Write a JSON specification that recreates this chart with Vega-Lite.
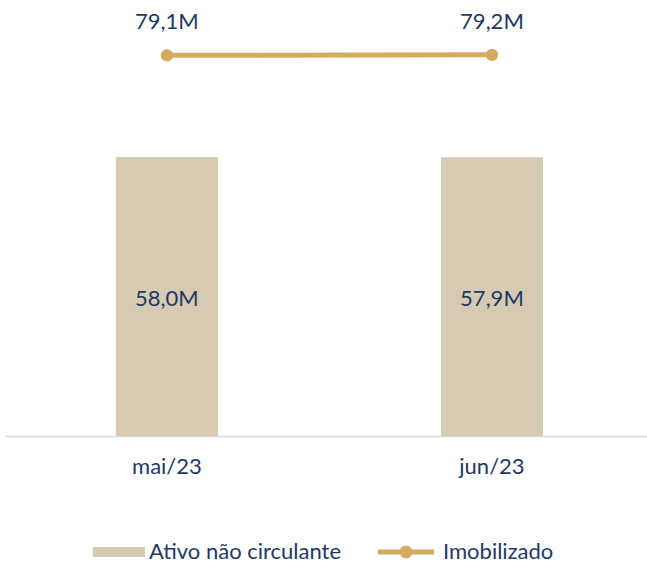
{
  "$schema": "https://vega.github.io/schema/vega-lite/v6.json",
  "width": 642,
  "height": 436,
  "padding": {"left": 5, "right": 0, "top": 0, "bottom": 0},
  "config": {
    "view": {"stroke": null},
    "font": "Lato",
    "text": {"font": "Lato"}
  },
  "data": {
    "values": [
      {"mes": "mai/23", "ativo": 58.0, "imob": 79.1, "ativoLabel": "58,0M", "imobLabel": "79,1M"},
      {"mes": "jun/23", "ativo": 57.9, "imob": 79.2, "ativoLabel": "57,9M", "imobLabel": "79,2M"}
    ]
  },
  "encoding": {
    "x": {
      "field": "mes",
      "type": "nominal",
      "sort": null,
      "scale": {"paddingInner": 0.686, "paddingOuter": 0.3306, "align": 0.516},
      "axis": {
        "title": null,
        "labelAngle": 0,
        "ticks": false,
        "grid": false,
        "domainColor": "#D9D9D9",
        "domainWidth": 1.5,
        "labelFont": "Lato",
        "labelFontSize": 22,
        "labelColor": "#1F3864",
        "labelPadding": 20
      }
    }
  },
  "layer": [
    {
      "mark": {"type": "bar"},
      "encoding": {
        "y": {"field": "ativo", "type": "quantitative", "scale": {"domain": [0, 90.6], "nice": false, "zero": true}, "axis": null},
        "color": {
          "datum": "Ativo não circulante",
          "type": "nominal",
          "scale": {"domain": ["Ativo não circulante", "Imobilizado"], "range": ["#D6CAB2", "#D5AB62"]},
          "legend": {
            "title": null,
            "orient": "none",
            "legendX": 79,
            "legendY": 524,
            "direction": "horizontal",
            "symbolSize": 3136,
            "columnPadding": 36,
            "labelOffset": 9,
            "labelLimit": 0,
            "labelFont": "Lato",
            "labelFontSize": 22,
            "labelColor": "#1F3864",
            "encode": {
              "symbols": {
                "update": {
                  "shape": {"signal": "datum.value === 'Imobilizado' ? 'M-1,-0.09H1V0.09H-1Z M0.23,0A0.23,0.23 0 1,1 -0.23,0A0.23,0.23 0 1,1 0.23,0Z' : 'M-0.68,-0.18H1.18V0.18H-0.68Z'"},
                  "fill": {"signal": "datum.value === 'Imobilizado' ? '#D5AB62' : '#D6CAB2'"},
                  "stroke": {"value": "transparent"},
                  "strokeWidth": {"value": 0},
                  "opacity": {"value": 1},
                  "fillOpacity": {"value": 1}
                }
              }
            }
          }
        }
      }
    },
    {
      "mark": {"type": "text", "dy": 142, "fontSize": 22, "color": "#1F3864", "baseline": "middle"},
      "encoding": {
        "y": {"field": "ativo", "type": "quantitative", "axis": null},
        "text": {"field": "ativoLabel"}
      }
    },
    {
      "mark": {"type": "line", "strokeWidth": 5},
      "encoding": {
        "y": {"field": "imob", "type": "quantitative", "axis": null},
        "color": {"datum": "Imobilizado", "type": "nominal"}
      }
    },
    {
      "mark": {"type": "point", "filled": true, "size": 154, "opacity": 1, "color": "#D5AB62", "shape": "circle"},
      "encoding": {
        "y": {"field": "imob", "type": "quantitative", "axis": null}
      }
    },
    {
      "mark": {"type": "text", "dy": -33, "fontSize": 22, "color": "#1F3864", "baseline": "middle"},
      "encoding": {
        "y": {"field": "imob", "type": "quantitative", "axis": null},
        "text": {"field": "imobLabel"}
      }
    }
  ]
}
